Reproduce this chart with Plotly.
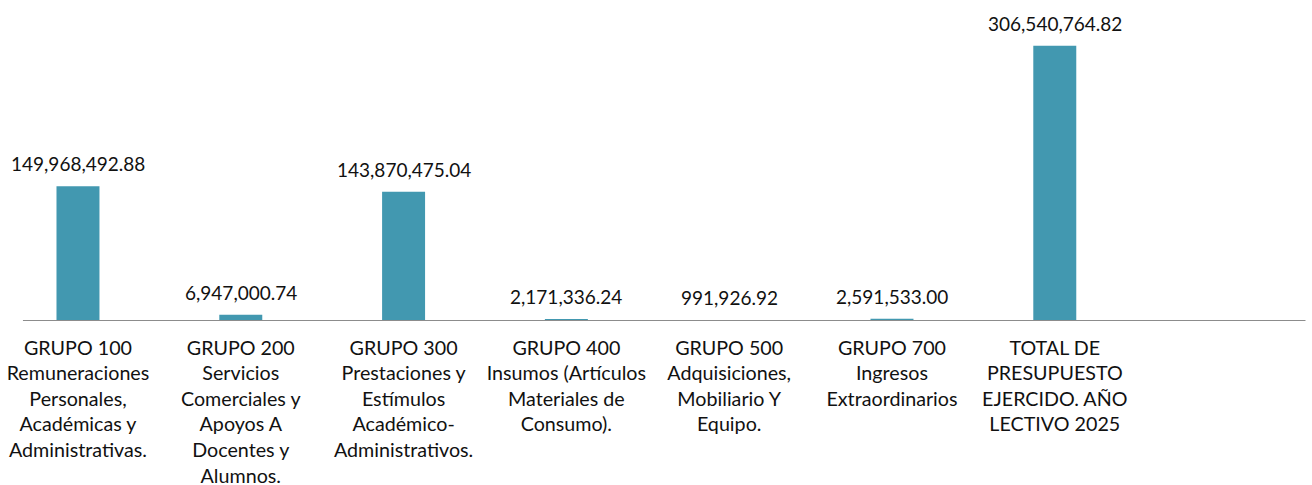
import plotly.graph_objects as go

categories = [
    "GRUPO 100<br>Remuneraciones<br>Personales,<br>Académicas y<br>Administrativas.",
    "GRUPO 200<br>Servicios<br>Comerciales y<br>Apoyos A<br>Docentes y<br>Alumnos.",
    "GRUPO 300<br>Prestaciones y<br>Estímulos<br>Académico-<br>Administrativos.",
    "GRUPO 400<br>Insumos (Artículos<br>Materiales de<br>Consumo).",
    "GRUPO 500<br>Adquisiciones,<br>Mobiliario Y<br>Equipo.",
    "GRUPO 700<br>Ingresos<br>Extraordinarios",
    "TOTAL DE<br>PRESUPUESTO<br>EJERCIDO. AÑO<br>LECTIVO 2025",
]
values = [149968492.88, 6947000.74, 143870475.04, 2171336.24, 991926.92, 2591533.00, 306540764.82]
value_labels = [f"{v:,.2f}" for v in values]

FONT = "Lato"
BAR_COLOR = "#4298b0"
positions = list(range(len(categories)))

fig = go.Figure()
fig.add_trace(go.Bar(
    x=positions, y=values, width=0.264,
    marker=dict(color=BAR_COLOR, line=dict(width=0)),
    hoverinfo="skip",
))

for x, v, t in zip(positions, values, value_labels):
    fig.add_annotation(x=x, y=v, text=t, showarrow=False, xanchor="center",
                       yanchor="bottom", yshift=9,
                       font=dict(family=FONT, size=19, color="#111111"))

fig.add_shape(type="line", xref="x", yref="y", x0=-0.338, x1=7.54, y0=0, y1=0,
              line=dict(color="#8c8c8c", width=2), layer="above")

fig.update_layout(
    width=1312, height=485,
    margin=dict(l=0, r=0, t=0, b=164, autoexpand=False),
    paper_bgcolor="white", plot_bgcolor="white",
    showlegend=False,
    font=dict(family=FONT, size=19, color="#111111"),
    xaxis=dict(range=[-0.479, 7.58], tickvals=positions, ticktext=categories,
               showgrid=False, zeroline=False, showline=False, automargin=False,
               ticks="outside", ticklen=9, tickcolor="rgba(0,0,0,0)",
               tickfont=dict(family=FONT, size=19.7, color="#111111"), tickangle=0),
    yaxis=dict(range=[0, 357.4e6], visible=False, showgrid=False, zeroline=False,
               automargin=False),
)

fig.write_html("out.html", config={"displayModeBar": False},
               post_script="document.body.style.margin='0';document.body.style.overflow='hidden';")
